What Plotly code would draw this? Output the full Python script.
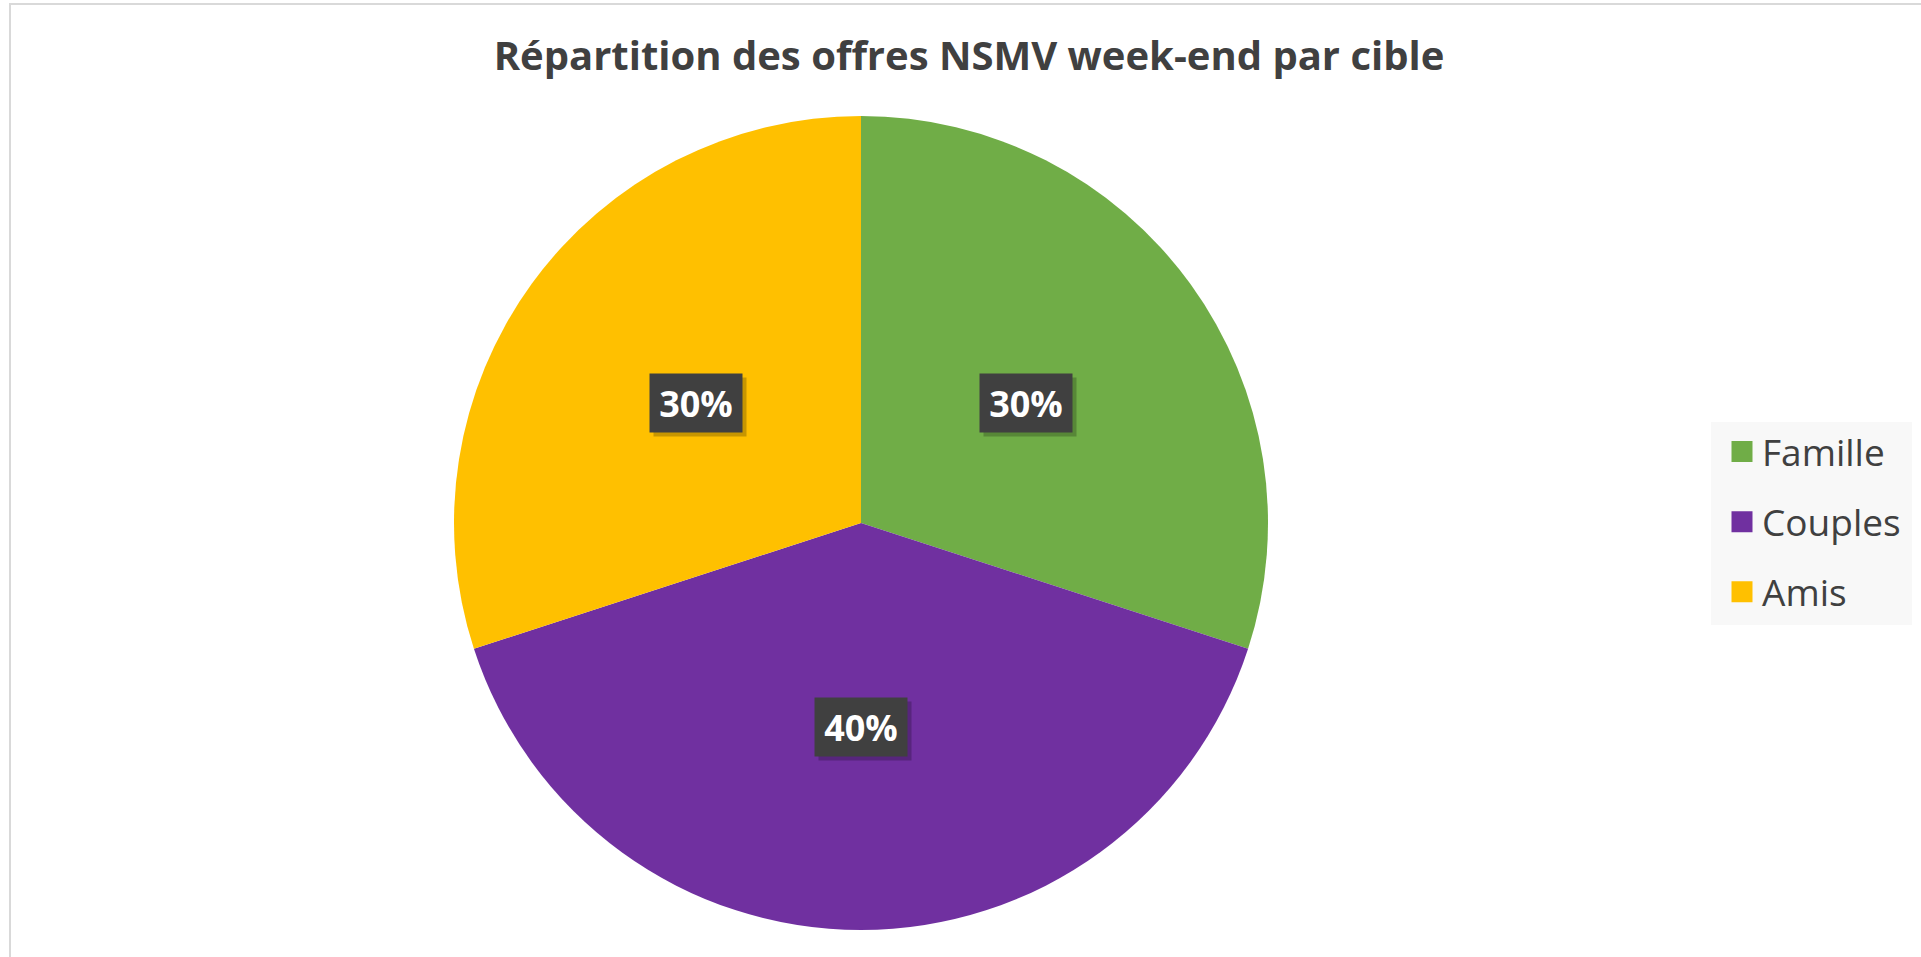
import math
import plotly.graph_objects as go

categories = ["Famille", "Couples", "Amis"]
values = [30, 40, 30]
colors = ["#70AD47", "#7030A0", "#FFC000"]
title_text = "Répartition des offres NSMV week-end par cible"

W, H = 1921, 957
cx_px, cy_px, r_px = 861, 434, 407  # centre (from bottom) and radius in pixels

fig = go.Figure()
fig.add_trace(go.Pie(
    labels=categories, values=values, sort=False, direction="clockwise", rotation=0,
    marker=dict(colors=colors, line=dict(color="white", width=0)),
    textinfo="none", hoverinfo="label+percent", showlegend=False,
    domain=dict(x=[(cx_px - r_px) / W, (cx_px + r_px) / W],
                y=[(cy_px - r_px) / H, (cy_px + r_px) / H]),
))

# legend entries
for i, (c, col) in enumerate(zip(categories, colors)):
    fig.add_trace(go.Scatter(
        x=[None], y=[None], mode="markers", name=c, legendgroup=c,
        marker=dict(symbol="square", size=16, color=col, line=dict(color=col, width=5)),
    ))

# data labels computed from values
total = sum(values)
cum = 0
annotations = []
for v in values:
    mid = math.radians((cum + v / 2) / total * 360)
    cum += v
    px = cx_px + 0.5 * r_px * math.sin(mid)
    py = cy_px + 0.5 * r_px * math.cos(mid)
    txt = f"{round(v / total * 100)}%"
    # soft shadow box (no text)
    annotations.append(dict(
        x=px / W, y=py / H, xref="paper", yref="paper", text=" ",
        xanchor="center", yanchor="middle",
        showarrow=False, xshift=4, yshift=-4, bgcolor="rgba(0,0,0,0.22)", borderpad=0,
        width=92, height=58,
        font=dict(family="Open Sans", size=36, color="rgba(0,0,0,0)"),
    ))
    annotations.append(dict(
        x=px / W, y=py / H, xref="paper", yref="paper", text=f"<b>{txt}</b>",
        xanchor="center", yanchor="middle",
        showarrow=False, bgcolor="#404040", borderpad=0, width=92, height=58,
        font=dict(family="Open Sans", size=36, color="white"),
    ))

fig.update_layout(
    width=W, height=H,
    margin=dict(l=0, r=0, t=0, b=0),
    paper_bgcolor="white", plot_bgcolor="white",
    xaxis=dict(visible=False), yaxis=dict(visible=False),
    title=dict(text=f"<b>{title_text}</b>", x=969 / W, xanchor="center",
               y=1 - 56 / H, yanchor="middle",
               font=dict(family="Open Sans", size=40, color="#404040")),
    legend=dict(x=1722 / W, xanchor="left", y=1 - 421 / H, yanchor="top",
                bgcolor="rgba(0,0,0,0)", font=dict(family="Open Sans", size=37, color="#404040"),
                tracegroupgap=19, traceorder="grouped", itemclick=False),
    annotations=annotations,
    shapes=[
        dict(type="rect", xref="paper", yref="paper", x0=10 / W, x1=1.02, y0=-0.02, y1=1 - 4 / H,
             line=dict(color="#D9D9D9", width=2), fillcolor="rgba(0,0,0,0)", layer="below"),
        dict(type="rect", xref="paper", yref="paper", x0=1711 / W, x1=1912 / W,
             y0=1 - 625 / H, y1=1 - 422 / H, line=dict(width=0), fillcolor="#F8F8F8", layer="below"),
    ],
)

fig.write_html("out.html", config={"displayModeBar": False},
               post_script="document.body.style.margin='0';")
